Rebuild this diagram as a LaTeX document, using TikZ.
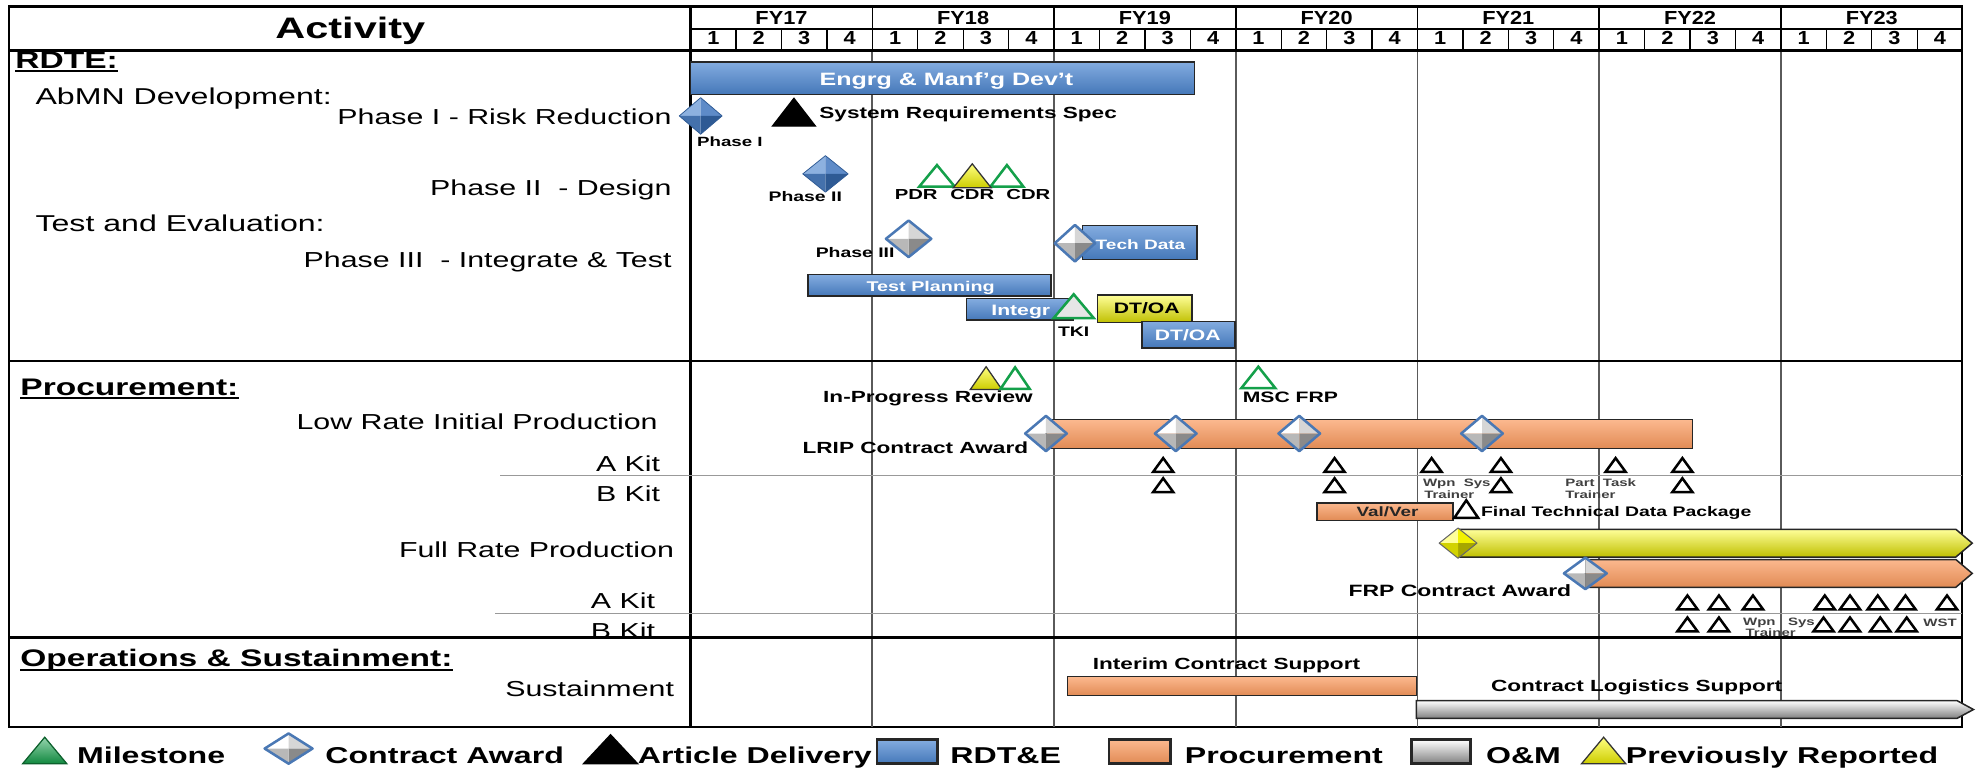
\documentclass[tikz,border=0pt]{standalone}
\usepackage{fontspec}
\setmainfont{Liberation Sans}[FakeStretch=1.4]
\newfontfamily\hdrfont{Liberation Sans}[FakeStretch=1.15]
\usepackage{tikz}
\definecolor{barblue}{HTML}{4E88D2}
\definecolor{barorange}{HTML}{FA9A5E}
\definecolor{baryellow}{HTML}{FFFF00}
\definecolor{bargray}{HTML}{C4C4C4}
\definecolor{msgreen}{HTML}{14A04A}
\definecolor{awardblue}{HTML}{4A78B4}
\definecolor{gridgray}{HTML}{5A5A5A}
% facets of the diamonds: A top left, B top right, C bottom right, D bottom left
\definecolor{silverA}{HTML}{FFFFFF}
\definecolor{silverB}{HTML}{D6D6D6}
\definecolor{silverC}{HTML}{8A8A8A}
\definecolor{silverD}{HTML}{B8B8B8}
\definecolor{blueA}{HTML}{8DB1DF}
\definecolor{blueB}{HTML}{5E8BC8}
\definecolor{blueC}{HTML}{2E5A94}
\definecolor{blueD}{HTML}{4471AC}
\definecolor{yellowA}{HTML}{FFFF9A}
\definecolor{yellowB}{HTML}{F2F200}
\definecolor{yellowC}{HTML}{A6A600}
\definecolor{yellowD}{HTML}{D2D200}

\begin{document}
\begin{tikzpicture}[x=1pt,y=-1pt,
	every node/.style={inner sep=0pt},
	hdr/.style={font=\hdrfont\bfseries\fontsize{15}{17}\selectfont, anchor=base},
	row/.style={font=\fontsize{17.2}{20}\selectfont, anchor=base east},
	group/.style={font=\fontsize{18.2}{21}\selectfont, anchor=base west},
	section/.style={font=\bfseries\fontsize{19}{22}\selectfont, anchor=base west},
	lbl/.style={font=\bfseries\fontsize{11}{13}\selectfont},
	biglbl/.style={font=\bfseries\fontsize{12.8}{15}\selectfont},
	tinylbl/.style={font=\bfseries\fontsize{8.5}{10}\selectfont, text=black!75, anchor=base west},
	barlbl/.style={font=\bfseries\fontsize{12}{14}\selectfont, text=white, anchor=base},
	legend/.style={font=\bfseries\fontsize{18.2}{22}\selectfont, anchor=base west},
	rdte/.style={draw=black!85, line width=1.2, top color=barblue!70!white, middle color=barblue, bottom color=barblue!88!black},
	proc/.style={draw=black!85, line width=1.2, top color=barorange!70!white, middle color=barorange, bottom color=barorange!90!black},
	prev/.style={draw=black!85, line width=1.2, top color=baryellow!40!white, middle color=baryellow, bottom color=baryellow!75!black},
	om/.style={draw=black!85, line width=1.2, top color=white, middle color=bargray, bottom color=bargray!65!black},
	milestone/.style={draw=msgreen, line width=2, fill=white},
	reported/.style={draw=black!80, line width=1, top color=baryellow!50!white, bottom color=baryellow!80!black},
	delivery/.style={draw=black, line width=1, fill=black},
	kit/.style={draw=black, line width=2, fill=white},
	silver edge/.style={draw=awardblue, line width=2},
	blue edge/.style={draw=blueC, line width=0.6},
	yellow edge/.style={draw=black!60, line width=0.8},
	pics/gem/.style n args={3}{code={
		\fill[#3A] (0,0) -- (-#1,0) -- (0,-#2) -- cycle;
		\fill[#3B] (0,0) -- (0,-#2) -- (#1,0) -- cycle;
		\fill[#3C] (0,0) -- (#1,0) -- (0,#2) -- cycle;
		\fill[#3D] (0,0) -- (0,#2) -- (-#1,0) -- cycle;
		\draw[#3 edge, line join=round] (-#1,0) -- (0,-#2) -- (#1,0) -- (0,#2) -- cycle;
	}},
	pics/tri/.style n args={3}{code={
		\draw[#3, line join=miter] (-#1,#2) -- (0,-#2) -- (#1,#2) -- cycle;
	}}]
\useasboundingbox (0,0) rectangle (1568,613);
%	\draw [help lines, step=50] (0,0) grid (1568,613);

% frame, header and year lines
\draw[line width=2] (7,5) rectangle (1557,577);
\draw[line width=1.2] (548,23) -- (1557,23);
\foreach \q in {1,...,27}
	\draw[line width=1] ({548+\q*36.05},23) -- ({548+\q*36.05},40);
\foreach \k in {1,...,6}{
	\draw[line width=1.2] ({548+\k*144.2},5) -- ({548+\k*144.2},40);
	\draw[gridgray, line width=1.4] ({548+\k*144.2},40) -- ({548+\k*144.2},577);
}
\draw[line width=1.8] (548,5) -- (548,577);
\draw[line width=2.2] (7,40) -- (1557,40);
\draw[black!40, line width=1] (397,377.5) -- (1557,377.5);
\draw[black!40, line width=1] (393,487) -- (1557,487);

\node[font=\bfseries\fontsize{23.5}{26}\selectfont, anchor=base] (activity) at (278,30.5) {Activity};
\foreach \y [count=\i from 0] in {17,...,23}
	\node[hdr] (fy\y) at ({620.1+\i*144.2},19.5) {FY\y};
\foreach \q in {0,...,27}{
	\pgfmathtruncatemacro{\qn}{mod(\q,4)+1}
	\node[hdr] (q\q) at ({566.03+\q*36.05},35.5) {\qn};
}

% activity column
\node[section] (rdtehead) at (12,54) {RDTE:};
\node[section] (prochead) at (16,313.5) {Procurement:};
\node[section] (opshead) at (16,529) {Operations \& Sustainment:};
\foreach \s in {rdtehead,prochead,opshead}
	\draw[line width=1.4] ([yshift=-2.4pt]\s.base west) -- ([yshift=-2.4pt]\s.base east);
\node[group] (abmn) at (28,83) {AbMN Development:};
\node[group] (tande) at (28,184) {Test and Evaluation:};
\node[row] (phaseone) at (533,99) {Phase I - Risk Reduction};
\node[row] (phasetwo) at (533,155.5) {Phase II\ \ - Design};
\node[row] (phasethree) at (533,212) {Phase III\ \ - Integrate \& Test};
\node[row] (lrip) at (522,341) {Low Rate Initial Production};
\node[row] (lripa) at (524,374) {A Kit};
\node[row] (lripb) at (524,398) {B Kit};
\node[row] (frp) at (535,442) {Full Rate Production};
\node[row] (frpa) at (520,483) {A Kit};
\node[row] (frpb) at (520,506.5) {B Kit};
\node[row] (sustain) at (535,553) {Sustainment};

% RDT&E
\draw[rdte] (548,49) rectangle (948,75);
\node[barlbl, font=\bfseries\fontsize{14.2}{16}\selectfont] (emd) at (751,67.5) {Engrg \& Manf'g Dev't};
\pic (gphaseone) at (556,92) {gem={17}{14.5}{blue}};
\node[lbl, anchor=base west, font=\bfseries\fontsize{10.6}{12}\selectfont] (lphaseone) at (553,116) {Phase I};
\pic (srsmark) at (630,89) {tri={17}{11}{delivery}};
\node[biglbl, anchor=base west] (srs) at (650,94) {System Requirements Spec};
\pic (gphasetwo) at (655,138) {gem={18}{14.5}{blue}};
\node[lbl, anchor=base] (lphasetwo) at (639,160) {Phase II};
\pic (pdrmark) at (743.5,139.5) {tri={14}{8.5}{milestone}};
\pic (cdrmarkb) at (799,139.5) {tri={13}{8.5}{milestone}};
\pic (cdrmarka) at (771.5,139.5) {tri={15}{9.5}{reported}};
\node[lbl, anchor=base, font=\bfseries\fontsize{11.5}{13}\selectfont] (pdr) at (727,158.7) {PDR};
\node[lbl, anchor=base, font=\bfseries\fontsize{11.5}{13}\selectfont] (cdra) at (771.5,158.7) {CDR};
\node[lbl, anchor=base, font=\bfseries\fontsize{11.5}{13}\selectfont] (cdrb) at (816,158.7) {CDR};
\pic (gphasethree) at (721,189.5) {gem={18}{14.5}{silver}};
\node[lbl, anchor=base east] (lphasethree) at (710,204) {Phase III};
\draw[rdte] (859,179) rectangle (950,206);
\node[barlbl, font=\bfseries\fontsize{10.8}{12}\selectfont] (techdata) at (905,197.6) {Tech Data};
\pic (gtechdata) at (853,193) {gem={16}{14.5}{silver}};
\draw[rdte] (641,218) rectangle (834,235);
\node[barlbl, font=\bfseries\fontsize{11.2}{13}\selectfont] (testplan) at (738.5,231.6) {Test Planning};
\draw[rdte] (767,237) rectangle (852,254);
\node[barlbl] (integr) at (810,250) {Integr};
\pic (tkimark) at (852,243) {tri={16}{9.5}{milestone, fill=silverB!60}};
\node[lbl, anchor=base] (tki) at (852,267) {TKI};
\draw[prev] (871,234) rectangle (946,256);
\node[barlbl, text=black] (dtoaa) at (910,248.6) {DT/OA};
\draw[rdte] (906,255) rectangle (980,276);
\node[barlbl] (dtoab) at (942.5,270.5) {DT/OA};

% procurement
\pic (iprmarka) at (782.5,300) {tri={12.5}{9}{reported}};
\pic (iprmarkb) at (805.5,300) {tri={11.5}{8.5}{milestone}};
\node[biglbl, anchor=base west] (ipr) at (653,319.5) {In-Progress Review};
\pic (mscmark) at (998.5,299.5) {tri={13.5}{8.5}{milestone}};
\node[lbl, anchor=base west, font=\bfseries\fontsize{12}{14}\selectfont] (mscfrp) at (986,319.5) {MSC FRP};
\draw[proc] (830,333) rectangle (1343,356);
\foreach \x [count=\i] in {830,933,1031,1176}
	\pic (glrip\i) at (\x,344) {gem={16.5}{14}{silver}};
\node[biglbl, anchor=base east] (lripaward) at (816,359.7) {LRIP Contract Award};
\foreach \x in {923,1059,1136,1191,1282,1335}
	\pic at (\x,369) {tri={8}{5.5}{kit}};
\foreach \x in {923,1059,1191,1335}
	\pic at (\x,385) {tri={8}{5.5}{kit}};
\node[tinylbl] (wpna) at (1129,386) {Wpn\ \ Sys};
\node[tinylbl] (trainera) at (1130,395.5) {Trainer};
\node[tinylbl] (parttask) at (1242,386) {Part\ \ Task};
\node[tinylbl] (trainerb) at (1242,395.5) {Trainer};
\draw[proc] (1045,399) rectangle (1153,413);
\node[barlbl, text=black!85, font=\bfseries\fontsize{10.7}{12}\selectfont] (valver) at (1101,409.5) {Val/Ver};
\pic (tdpmark) at (1163.5,404) {tri={9.5}{7}{kit}};
\node[lbl, anchor=base west] (tdp) at (1175,410) {Final Technical Data Package};
\draw[prev] (1157,420) -- (1552,420) -- (1565,431) -- (1552,442) -- (1157,442) -- cycle;
\pic (gfrp) at (1157,431) {gem={15}{12}{yellow}};
\draw[proc] (1258,444) -- (1552,444) -- (1565,455) -- (1552,466) -- (1258,466) -- cycle;
\pic (gfrpaward) at (1258,455) {gem={17}{12.5}{silver}};
\node[biglbl, anchor=base east, font=\bfseries\fontsize{13}{15}\selectfont] (frpaward) at (1247,473.6) {FRP Contract Award};
\foreach \x in {1339,1364,1391,1448,1468,1490,1512,1545}
	\pic at (\x,478) {tri={8}{5.5}{kit}};
\foreach \x in {1339,1364,1447,1468,1492,1513}
	\pic at (\x,495.5) {tri={8}{5.5}{kit}};
\node[tinylbl] (wpnb) at (1383,496) {Wpn\ \ \ Sys};
\node[tinylbl] (trainerc) at (1385,505) {Trainer};
\node[tinylbl] (wst) at (1526,497) {WST};

% operations and sustainment
\node[biglbl, anchor=base west] (ics) at (867,531) {Interim Contract Support};
\draw[proc] (847,537) rectangle (1124,552);
\node[biglbl, anchor=base west] (cls) at (1183,549) {Contract Logistics Support};
\draw[om] (1124,556) -- (1553,556) -- (1566,563) -- (1553,570) -- (1124,570) -- cycle;

% section lines
\draw[line width=2.2] (7,286.5) -- (1557,286.5);
\draw[line width=2.2] (7,506) -- (1557,506);

% legend
\pic (lgmsmark) at (35.5,595.5) {tri={17.5}{10.5}{draw=msgreen!60!black, line width=1, top color=msgreen!45!white, bottom color=msgreen!85!black}};
\node[legend] (lgms) at (61,605.5) {Milestone};
\pic (lgcamark) at (229,594) {gem={19}{12}{silver}};
\node[legend] (lgca) at (258,605.5) {Contract Award};
\pic (lgadmark) at (484.5,594.5) {tri={21.5}{11.5}{delivery}};
\node[legend] (lgad) at (506,605.5) {Article Delivery};
\draw[rdte, line width=2] (696,587) rectangle (744,606);
\node[legend] (lgrd) at (754,605.5) {RDT\&E};
\draw[proc, line width=2] (880,587) rectangle (929,606);
\node[legend] (lgpr) at (940,605.5) {Procurement};
\draw[om, line width=2] (1120,587) rectangle (1167,606);
\node[legend] (lgom) at (1179,605.5) {O\&M};
\pic (lgpvmark) at (1272.5,595.5) {tri={17.5}{10.5}{reported}};
\node[legend] (lgpv) at (1290,605.5) {Previously Reported};
\end{tikzpicture}
\end{document}
